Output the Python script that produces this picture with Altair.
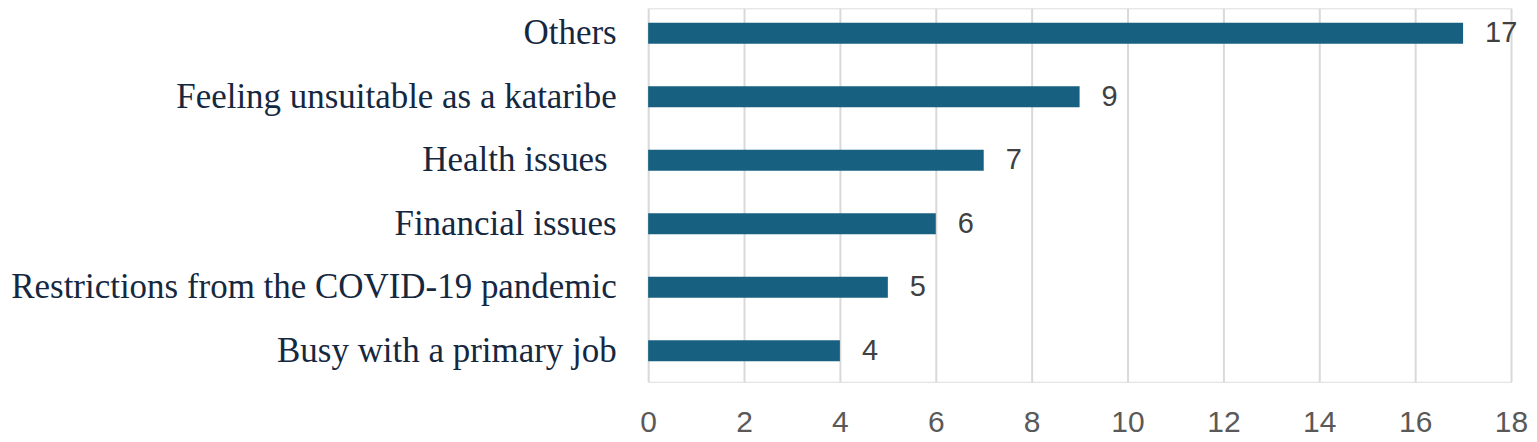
import altair as alt
import pandas as pd

categories = [
    "Others",
    "Feeling unsuitable as a kataribe",
    "Health issues",
    "Financial issues",
    "Restrictions from the COVID-19 pandemic",
    "Busy with a primary job",
]
values = [17, 9, 7, 6, 5, 4]
x_ticks = [0, 2, 4, 6, 8, 10, 12, 14, 16, 18]

df = pd.DataFrame({"category": categories, "value": values})

y_enc = alt.Y(
    "category:N",
    sort=categories,
    scale=alt.Scale(paddingInner=0.67, paddingOuter=0.275, align=0.414),
    axis=alt.Axis(
        title=None,
        domain=False,
        ticks=False,
        labelFont="Liberation Serif",
        labelFontSize=35,
        labelColor="#15283f",
        labelPadding={"condition": {"test": "datum.value == 'Health issues'", "value": 41}, "value": 32},
        labelLimit=1000,
    ),
)
x_enc = alt.X(
    "value:Q",
    scale=alt.Scale(domain=[0, 18], nice=False),
    axis=alt.Axis(
        title=None,
        values=x_ticks,
        domain=False,
        ticks=False,
        grid=True,
        gridColor="#d9d9d9",
        gridWidth=2,
        labelFlush=False,
        labelFont="Liberation Sans",
        labelFontSize=30,
        labelColor="#595959",
        labelPadding=26,
    ),
)

bars = alt.Chart(df).mark_bar(color="#17607f").encode(x=x_enc, y=y_enc)
labels = alt.Chart(df).mark_text(
    align="left", baseline="middle", dx=22, font="Liberation Sans", fontSize=29, color="#404040"
).encode(x=alt.X("value:Q"), y=alt.Y("category:N", sort=categories), text="value:Q")

chart = (
    alt.layer(bars, labels)
    .properties(
        width=864,
        height=374,
        autosize=alt.AutoSizeParams(type="none"),
        padding={"left": 641, "top": 0, "right": 18, "bottom": 58},
    )
    .configure_view(stroke=None)
    .configure(background="white")
)

chart.save("out.html", embed_options={"renderer": "svg", "actions": False})
